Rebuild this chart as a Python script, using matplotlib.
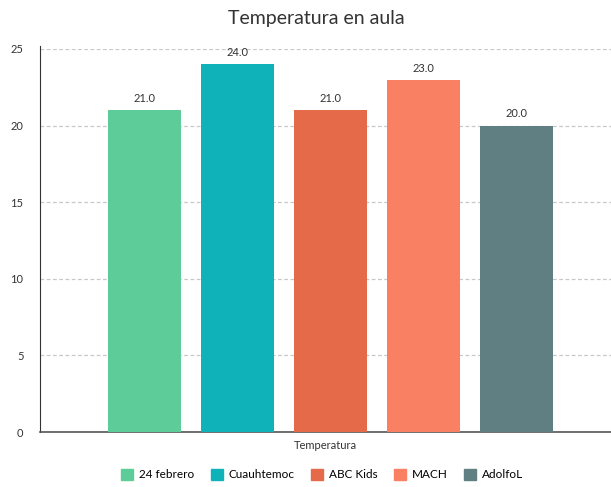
import matplotlib.pyplot as plt
from matplotlib.patches import Patch

plt.rcParams['font.family'] = ['Lato', 'DejaVu Sans']

# Datos de temperatura por escuela
escuelas = ['24 febrero', 'Cuauhtemoc', 'ABC Kids', 'MACH', 'AdolfoL']
temperaturas = [21.0, 24.0, 21.0, 23.0, 20.0]
colores = ['#5ecc98', '#10b2ba', '#e56a4a', '#fa8064', '#607f82']
yticks = [0, 5, 10, 15, 20, 25]

fig = plt.figure(figsize=(6.11, 4.87), dpi=100)
ax = fig.add_axes([0.0655, 0.1129, 0.9345, 0.7865])

pos = list(range(len(escuelas)))
barras = ax.bar(pos, temperaturas, width=0.79, color=colores, zorder=3)
for b, t in zip(barras, temperaturas):
    ax.text(b.get_x() + b.get_width() / 2, t + 0.4, f'{t:.1f}',
            ha='center', va='bottom', fontsize=8, color='#333333')

ax.set_xlim(-1.124, 5.016)
ax.set_ylim(0, 25)
ax.set_yticks(yticks)
ax.set_xticks([])
ax.tick_params(axis='y', length=0, labelsize=8, labelcolor='#333333', pad=12)
ax.grid(axis='y', color='#c8c8c8', linestyle=(0, (3, 2)), linewidth=0.9, zorder=0)
for s in ['top', 'right']:
    ax.spines[s].set_visible(False)
ax.spines['left'].set_color('#333333')
ax.spines['left'].set_bounds(0, 25.2)
ax.spines['bottom'].set_color('#555555')
ax.spines['bottom'].set_linewidth(1.2)

ax.set_xlabel('Temperatura', fontsize=8, color='#333333', labelpad=6)
fig.text(0.518, 0.962, 'Temperatura en aula', ha='center', va='center',
         fontsize=14, color='#333333')

handles = [Patch(color=c) for c in colores]
fig.legend(handles, escuelas, loc='center', bbox_to_anchor=(0.527, 0.025),
           ncol=5, frameon=False, fontsize=8.5, handlelength=1.0,
           handleheight=1.0, handletextpad=0.5, columnspacing=1.4)

plt.savefig('out.png', dpi=100)
